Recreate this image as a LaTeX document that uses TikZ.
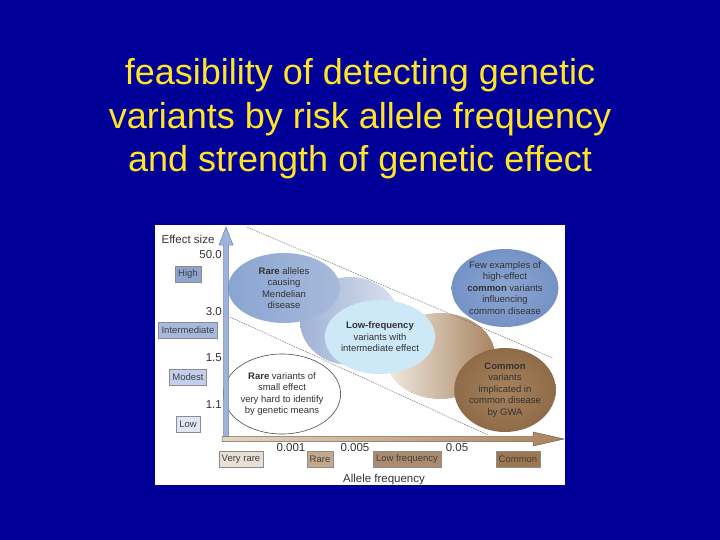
\documentclass[tikz,border=0pt]{standalone}
\usepackage{fontspec}
\setmainfont{Liberation Sans}
\usetikzlibrary{shapes.geometric,shadows}

\definecolor{slideblue}{RGB}{0,0,153}
\definecolor{titleyellow}{RGB}{255,228,40}
\definecolor{effhigh}{HTML}{8FA5CF}
\definecolor{effint}{HTML}{A8B9DF}
\definecolor{effmod}{HTML}{C3CFEC}
\definecolor{efflow}{HTML}{DFE6F4}
\definecolor{freqvrare}{HTML}{E8E0D5}
\definecolor{freqrare}{HTML}{C4A88C}
\definecolor{freqlow}{HTML}{AA8B6D}
\definecolor{freqcommon}{HTML}{9C7751}
\definecolor{axisblue}{HTML}{9DB3D9}
\definecolor{axisbluedark}{HTML}{6A86B6}
\definecolor{axisbrown}{HTML}{A9835F}
\definecolor{axisbrownlight}{HTML}{E2D6C8}
\definecolor{axisbrowndark}{HTML}{7E5E40}
\definecolor{midblueleft}{HTML}{9FB2D6}
\definecolor{midblueright}{HTML}{DCE3EE}
\definecolor{midbrownleft}{HTML}{F2ECE4}
\definecolor{midbrownright}{HTML}{A8845F}
\definecolor{mendelleft}{HTML}{8AA5D2}
\definecolor{mendelright}{HTML}{A7BADB}
\definecolor{highinner}{HTML}{8CA6D3}
\definecolor{highouter}{HTML}{7592C6}
\definecolor{gwainner}{HTML}{A6825D}
\definecolor{gwaouter}{HTML}{8F6B48}
\definecolor{lowfreqfill}{HTML}{CDE8F7}

\tikzstyle{axis-label} = [font=\fontsize{11.5}{13}\selectfont, text=black!80, inner sep=0pt]
\tikzstyle{scale-box} = [draw=black!45, rectangle, font=\fontsize{9.5}{11}\selectfont, text=black!75, inner xsep=3pt, inner ysep=0pt, minimum height=15.5pt, drop shadow={shadow xshift=0.8pt, shadow yshift=-0.8pt, fill=black!45, opacity=0.6}]
\tikzstyle{blob} = [ellipse, inner sep=0pt, align=center, font=\fontsize{9.5}{11.5}\selectfont, text=black!80]
\tikzstyle{limit-line} = [black!55, line width=0.5pt, dash pattern=on 1.5pt off 1pt]

\begin{document}
\begin{tikzpicture}[x=1pt,y=-1pt]

	\fill[slideblue] (0,0) rectangle (720,540);
	\useasboundingbox (0,0) rectangle (720,540);

	\node [font=\fontsize{36}{43.5}\selectfont, text=titleyellow, align=center, inner sep=0pt] (title) at (360,119) {feasibility of detecting genetic\\variants by risk allele frequency\\and strength of genetic effect};

	\node [fill=white, minimum width=410pt, minimum height=260pt, inner sep=0pt, anchor=north west] (panel) at (155,225) {};

	% background clouds
	\node [blob, left color=midblueleft, right color=midblueright, minimum width=100pt, minimum height=88pt] (mid-blue) at (350,321) {};
	\node [blob, left color=midbrownleft, right color=midbrownright, minimum width=110pt, minimum height=86pt] (mid-brown) at (440,356) {};

	\node [blob, left color=mendelleft, right color=mendelright, minimum width=112pt, minimum height=70pt] (mendel) at (284,288) {\textbf{Rare} alleles\\causing\\Mendelian\\disease};
	\node [blob, inner color=highinner, outer color=highouter, minimum width=100pt, minimum height=78pt] (high-common) at (505,288) {Few examples of\\high-effect\\\textbf{common} variants\\influencing\\common disease};
	\node [blob, inner color=gwainner, outer color=gwaouter, minimum width=96pt, minimum height=84pt] (gwa) at (505,390) {\textbf{Common}\\variants\\implicated in\\common disease\\by GWA};
	\node [blob, fill=lowfreqfill, minimum width=100pt, minimum height=74pt] (low-freq) at (380,337) {\textbf{Low-frequency}\\variants with\\intermediate effect};
	\node [blob, fill=white, draw=black!70, line width=0.6pt, minimum width=110pt, minimum height=80pt] (small-effect) at (282,394) {\textbf{Rare} variants of\\small effect\\very hard to identify\\by genetic means};

	% limits of the feasible band
	\coordinate (upper-start) at (247,227);
	\coordinate (upper-end) at (553,358);
	\coordinate (lower-start) at (230,317);
	\coordinate (lower-end) at (488,435);
	\draw[limit-line] (upper-start) -- (upper-end);
	\draw[limit-line] (lower-start) -- (lower-end);

	% axes
	\draw[draw=axisbluedark, fill=axisblue, line width=0.5pt] (223.5,441) -- (223.5,245) -- (219,245) -- (226,227) -- (233,245) -- (228.5,245) -- (228.5,441) -- cycle;
	\draw[draw=axisbrowndark, left color=axisbrownlight, right color=axisbrown, line width=0.5pt] (222,436.5) -- (533,436.5) -- (533,432) -- (564,439) -- (533,446) -- (533,441.5) -- (222,441.5) -- cycle;

	\node [axis-label] (effect-title) at (188,239) {Effect size};
	\foreach \val/\ypos [count=\i] in {50.0/255, 3.0/312, 1.5/358, 1.1/405}{%
		\node [axis-label, anchor=east] (effect-tick-\i) at (222,\ypos) {\val};}

	\foreach \name/\txt/\col/\ypos in {high/High/effhigh/274, intermediate/Intermediate/effint/330, modest/Modest/effmod/377, low/Low/efflow/424}{%
		\node [scale-box, fill=\col] (effect-\name) at (188,\ypos) {\txt};}

	\foreach \val/\xpos [count=\i] in {0.001/291, 0.005/355, 0.05/457}{%
		\node [axis-label] (freq-tick-\i) at (\xpos,448) {\val};}

	\foreach \name/\txt/\col/\xpos in {very-rare/Very rare/freqvrare/241, rare/Rare/freqrare/320, low/Low frequency/freqlow/407, common/Common/freqcommon/518}{%
		\node [scale-box, fill=\col] (freq-\name) at (\xpos,459) {\txt};}

	\node [axis-label] (freq-title) at (384,480) {Allele frequency};

\end{tikzpicture}
\end{document}
